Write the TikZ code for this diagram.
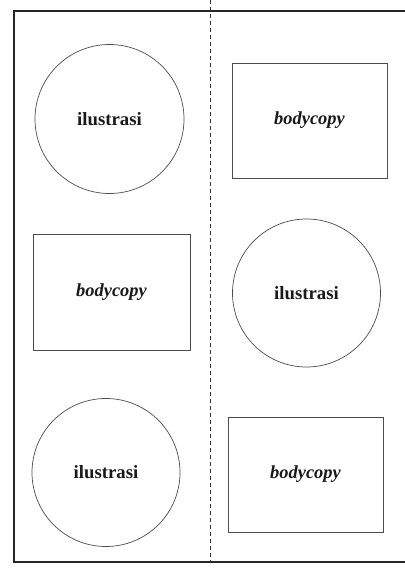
\documentclass[tikz,border=0pt]{standalone}
\usepackage{fontspec}
\setmainfont{Liberation Serif}
\begin{document}
\begin{tikzpicture}[x=1bp,y=-1bp,
  frameline/.style={draw=black!85, line width=1.6bp},
  foldline/.style={draw=black!80, line width=0.8bp, dash pattern=on 4bp off 3bp},
  illus/.style={circle, draw=black!70, line width=0.7bp, inner sep=0pt,
    font=\fontsize{18.8}{20}\selectfont\bfseries, text=black!90},
  body/.style={rectangle, draw=black!70, line width=0.7bp, inner sep=0pt,
    font=\fontsize{18.5}{20}\selectfont\bfseries\itshape, text=black!90}]
\useasboundingbox (0,0) rectangle (404,572);
% frame
\coordinate (tl) at (14,11);
\coordinate (tr) at (405,11);
\coordinate (bl) at (14,562);
\coordinate (br) at (405,562);
\draw[frameline] (tr) -- (tl) -- (bl) -- (br);
% fold line
\coordinate (ft) at (210,0);
\coordinate (fb) at (210,562);
\draw[foldline] (ft) -- (fb);
% left column
\node[illus, minimum size=149bp] (c1) at (109.5,119) {ilustrasi};
\node[body, minimum width=157bp, minimum height=116bp] (r2) at (111.5,292) {bodycopy};
\node[illus, minimum size=148bp] (c3) at (106,472.5) {ilustrasi};
% right column
\node[body, minimum width=155bp, minimum height=115bp] (r1) at (309.5,120.5) {bodycopy};
\node[illus, minimum size=148bp] (c2) at (306.5,293) {ilustrasi};
\node[body, minimum width=155bp, minimum height=115bp] (r3) at (305.5,474.5) {bodycopy};
\end{tikzpicture}
\end{document}
